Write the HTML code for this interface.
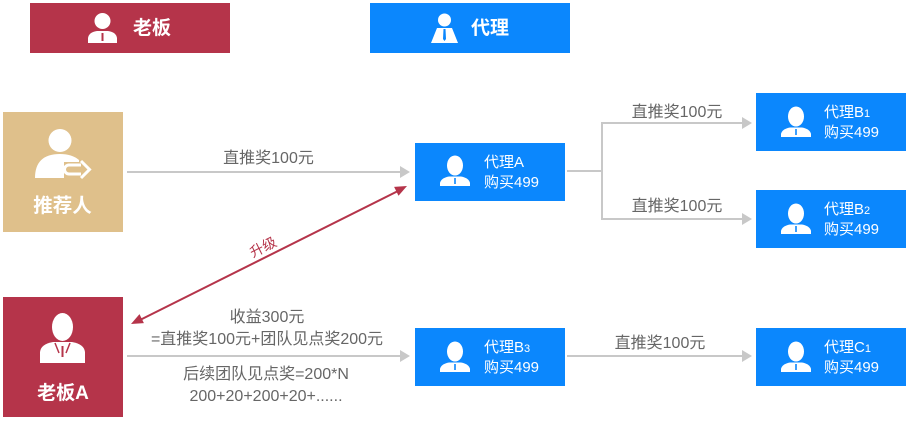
<!DOCTYPE html>
<html><head><meta charset="utf-8">
<style>
html,body{margin:0;padding:0;background:#fff;}
body{width:910px;height:420px;overflow:hidden;}
svg text{font-family:"Liberation Sans","Noto Sans CJK SC",sans-serif;}
</style></head><body>
<svg width="910" height="420" viewBox="0 0 910 420" xmlns="http://www.w3.org/2000/svg">
<!-- header boxes -->
<rect x="30" y="3" width="200" height="50" fill="#b5344a"/>
<circle cx="102.5" cy="21" r="8" fill="#fff"/>
<path d="M88 43 L88 38 Q89 32 97 31 L108 31 Q116 32 117 38 L117 43 Z" fill="#fff"/>
<rect x="101.5" y="33" width="2" height="8" fill="#b5344a"/>
<text x="133" y="34" font-size="19" font-weight="bold" fill="#fff">老板</text>

<rect x="370" y="3" width="200" height="50" fill="#0b87fd"/>
<circle cx="444.5" cy="20" r="6.5" fill="#fff"/>
<path d="M431 43 L437 28 L452 28 L458 43 Z" fill="#fff"/>
<path d="M443.5 29 L445.5 29 L446 39 L444.5 41 L443 39 Z" fill="#0b87fd"/>
<text x="471" y="34" font-size="19" font-weight="bold" fill="#fff">代理</text>

<!-- 推荐人 -->
<rect x="3" y="112" width="120" height="120" fill="#dfc08b"/>
<circle cx="60" cy="140.5" r="11.5" fill="#fff"/>
<path d="M35 178 Q35 154 60 154 Q72 154 79 160 L79 178 Z" fill="#fff"/>
<path d="M64 162 L90 162 L90 180 L64 180 Z" fill="#dfc08b"/>
<path d="M81 165 L69 165 A4.5 4.5 0 0 0 69 174 L81 174" fill="none" stroke="#fff" stroke-width="3"/>
<path d="M81 161 L89.5 169.5 L81 178" fill="none" stroke="#fff" stroke-width="3"/>
<text x="62.5" y="212" font-size="19.5" font-weight="bold" fill="#fff" text-anchor="middle">推荐人</text>

<!-- 老板A -->
<rect x="3" y="297" width="120" height="120" fill="#b5344a"/>
<ellipse cx="62.5" cy="327" rx="10.5" ry="14" fill="#fff"/>
<path d="M40 363 L40 352 Q41 344 53 342 L72 342 Q84 344 85 352 L85 363 Z" fill="#fff"/>
<path d="M55 343 L59 353 M70 343 L66 353" stroke="#b5344a" stroke-width="1.5" fill="none"/>
<rect x="61.5" y="346" width="2" height="11" fill="#b5344a"/>
<text x="63" y="399" font-size="19" font-weight="bold" fill="#fff" text-anchor="middle">老板A</text>

<!-- agent boxes -->
<g fill="#0b87fd">
<rect x="415" y="143" width="150" height="58"/>
<rect x="756" y="93" width="150" height="58"/>
<rect x="756" y="190" width="150" height="58"/>
<rect x="415" y="328" width="150" height="58"/>
<rect x="756" y="328" width="150" height="58"/>
</g>
<defs>
<g id="ag">
<ellipse cx="15" cy="9.5" rx="8" ry="10" fill="#fff"/>
<path d="M0 30 L0 27 Q1 22 9 20.5 L21 20.5 Q29 22 30 27 L30 30 Z" fill="#fff"/>
<path d="M14.2 22 L15.8 22 L15.8 28 L14.2 28 Z" fill="#0b87fd"/>
</g>
</defs>
<use href="#ag" x="440" y="156"/>
<use href="#ag" x="781" y="107"/>
<use href="#ag" x="781" y="204"/>
<use href="#ag" x="440" y="342"/>
<use href="#ag" x="781" y="342"/>

<g font-size="15" fill="#fff">
<text x="484" y="167">代理A</text>
<text x="484" y="187">购买499</text>
<text x="824" y="117">代理B<tspan font-size="11">1</tspan></text>
<text x="824" y="137">购买499</text>
<text x="824" y="214">代理B<tspan font-size="11">2</tspan></text>
<text x="824" y="234">购买499</text>
<text x="484" y="352">代理B<tspan font-size="11">3</tspan></text>
<text x="484" y="372">购买499</text>
<text x="824" y="352">代理C<tspan font-size="11">1</tspan></text>
<text x="824" y="372">购买499</text>
</g>

<!-- gray connectors -->
<g stroke="#c8c8c8" stroke-width="2" fill="none">
<line x1="127" y1="172" x2="401" y2="172"/>
<line x1="127" y1="356" x2="401" y2="356"/>
<line x1="567" y1="171" x2="602" y2="171"/>
<line x1="602" y1="122" x2="602" y2="220"/>
<line x1="601" y1="123" x2="743" y2="123"/>
<line x1="601" y1="219" x2="743" y2="219"/>
<line x1="567" y1="356" x2="743" y2="356"/>
</g>
<g fill="#c8c8c8">
<path d="M410 172 L400 166 L400 178 Z"/>
<path d="M410 356 L400 350 L400 362 Z"/>
<path d="M752 123 L742 117 L742 129 Z"/>
<path d="M752 219 L742 213 L742 225 Z"/>
<path d="M752 356 L742 350 L742 362 Z"/>
</g>

<!-- labels -->
<g font-size="16" fill="#666" text-anchor="middle">
<text x="268.5" y="163">直推奖100元</text>
<text x="677" y="117">直推奖100元</text>
<text x="677" y="211">直推奖100元</text>
<text x="660" y="348">直推奖100元</text>
<text x="267" y="322">收益300元</text>
<text x="267" y="344">=直推奖100元+团队见点奖200元</text>
<text x="266" y="379">后续团队见点奖=200*N</text>
<text x="266" y="401">200+20+200+20+......</text>
</g>

<!-- red upgrade arrow -->
<line x1="398" y1="191" x2="140" y2="320" stroke="#b5344a" stroke-width="2"/>
<path d="M407 186 L398.5 195.8 L394.1 186.9 Z" fill="#b5344a"/>
<path d="M131 324 L143.9 323.1 L139.5 314.1 Z" fill="#b5344a"/>
<text x="263" y="252" font-size="14" fill="#b5344a" text-anchor="middle" transform="rotate(-26.5 263 247)">升级</text>
</svg>
</body></html>
